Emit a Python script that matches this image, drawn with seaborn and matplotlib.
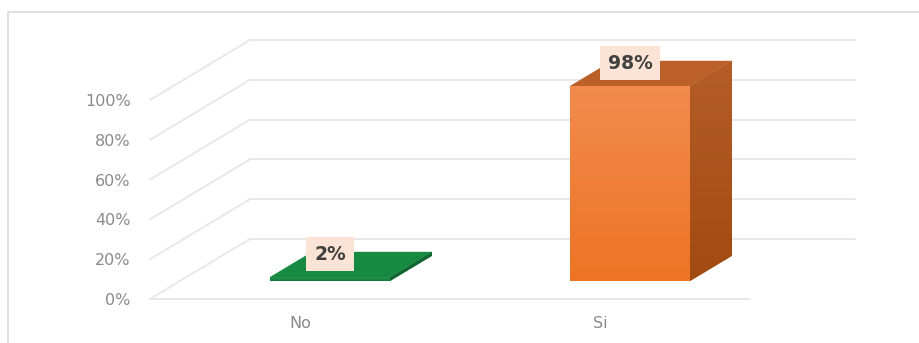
import numpy as np
import pandas as pd
import matplotlib
matplotlib.use("Agg")
import matplotlib.pyplot as plt
import seaborn as sns
from matplotlib.patches import Polygon, Rectangle
from matplotlib.ticker import PercentFormatter
from matplotlib.colors import LinearSegmentedColormap

# ---- data ----
categories = ["No", "Si"]
shares = [0.02, 0.98]
value_labels = ["2%", "98%"]
y_ticks = [0.0, 0.2, 0.4, 0.6, 0.8, 1.0]

# ---- styling ----
front_top = ["#23954f", "#f38b4e"]
front_bottom = ["#15793c", "#ec7424"]
side_top = ["#116632", "#b45d27"]
side_bottom = ["#116632", "#a14b12"]
top_colors = ["#178a42", "#bb6029"]
grid_color = "#e8e8e8"
text_color = "#8a8a8a"
label_color = "#404040"
label_fill = "#fbe4d5"

W, H, DPI = 919, 343, 100
sns.set_theme(style="white")
plt.rcParams["font.family"] = ["DejaVu Sans"]

fig = plt.figure(figsize=(W / DPI, H / DPI), dpi=DPI)
fig.patch.set_facecolor("white")

# front plane of the 3D box, in pixels
ax_left, ax_bottom, ax_w, ax_h = 150, 44, 600, 199
ax = fig.add_axes([ax_left / W, ax_bottom / H, ax_w / W, ax_h / H])
ax.set_facecolor("none")

df = pd.DataFrame({"category": categories, "share": shares})
sns.barplot(data=df, x="category", y="share", hue="category",
            palette=front_bottom, width=0.4, saturation=1, legend=False,
            ax=ax, zorder=3)
ax.set_xlim(-0.5, 1.5)
ax.set_ylim(0, 1)

# full floor depth (100 px right, 60 px up) in data units
x_per_px = (ax.get_xlim()[1] - ax.get_xlim()[0]) / ax_w
y_per_px = (ax.get_ylim()[1] - ax.get_ylim()[0]) / ax_h
ddx, ddy = 100 * x_per_px, 60 * y_per_px
t_front, t_back = 0.30, 0.72

# walls and gridlines
x0, x1 = ax.get_xlim()
for v in y_ticks:
    ax.plot([x0 + ddx, x1 + ddx + 5 * x_per_px], [v + ddy, v + ddy],
            color=grid_color, lw=1.4, zorder=1, clip_on=False)
    ax.plot([x0, x0 + ddx], [v, v + ddy], color=grid_color, lw=1.4,
            zorder=1, clip_on=False)
ax.plot([x0, x1], [0, 0], color=grid_color, lw=1.4, zorder=1, clip_on=False)

grad = np.linspace(0, 1, 64).reshape(-1, 1)

# 3D bars built from the seaborn bar patches
bars = list(ax.patches)
for i, p in enumerate(bars):
    bx, bw, bh = p.get_x(), p.get_width(), p.get_height()
    ax_f, ay_f = t_front * ddx, t_front * ddy
    ax_b, ay_b = t_back * ddx, t_back * ddy
    p.set_x(bx + ax_f)
    p.set_y(ay_f)
    p.set_clip_on(False)
    p.set_edgecolor("none")

    # gradient on the front face
    cmap = LinearSegmentedColormap.from_list(
        f"front{i}", [front_bottom[i], front_top[i]])
    im = ax.imshow(grad, cmap=cmap, origin="lower", aspect="auto",
                   extent=(bx + ax_f, bx + bw + ax_f, ay_f, ay_f + bh),
                   zorder=3.1)
    im.set_clip_box(fig.bbox)
    im.set_clip_path(p)

    side = Polygon([(bx + bw + ax_f, ay_f), (bx + bw + ax_b, ay_b),
                    (bx + bw + ax_b, ay_b + bh), (bx + bw + ax_f, ay_f + bh)],
                   closed=True, facecolor=side_bottom[i], edgecolor="none",
                   zorder=3, clip_on=False)
    ax.add_patch(side)
    side_cmap = LinearSegmentedColormap.from_list(
        f"side{i}", [side_bottom[i], side_top[i]])
    sim = ax.imshow(grad, cmap=side_cmap, origin="lower", aspect="auto",
                    extent=(bx + bw + ax_f, bx + bw + ax_b, ay_f, ay_b + bh),
                    zorder=3.1)
    sim.set_clip_box(fig.bbox)
    sim.set_clip_path(side)

    top = Polygon([(bx + ax_f, ay_f + bh), (bx + bw + ax_f, ay_f + bh),
                   (bx + bw + ax_b, ay_b + bh), (bx + ax_b, ay_b + bh)],
                  closed=True, facecolor=top_colors[i], edgecolor="none",
                  zorder=3.2, clip_on=False)
    ax.add_patch(top)

    ax.annotate(value_labels[i], xy=(bx + bw / 2 + ax_f, ay_f + bh),
                xytext=(0, 16.5), textcoords="offset points",
                ha="center", va="center", fontsize=13.5, fontweight="bold",
                color=label_color, zorder=5, annotation_clip=False,
                bbox=dict(boxstyle="square,pad=0.42", facecolor=label_fill,
                          edgecolor="none"))

ax.set_xlim(x0, x1)
ax.set_ylim(0, 1)

# axes text
ax.set_yticks(y_ticks)
ax.yaxis.set_major_formatter(PercentFormatter(1.0, decimals=0))
ax.tick_params(axis="y", length=0, pad=14, labelsize=11.5, labelcolor=text_color)
ax.tick_params(axis="x", length=0, pad=12, labelsize=11.5, labelcolor=text_color)
ax.set_xlabel("")
ax.set_ylabel("")
for s in ax.spines.values():
    s.set_visible(False)

# chart frame
fig.patches.append(Rectangle((8 / W, -0.2), 1.2, (H - 12) / H + 0.2,
                             transform=fig.transFigure, fill=False,
                             edgecolor="#dcdcdc", lw=1.2, clip_on=False))

fig.savefig("out.png", dpi=DPI, facecolor="white")
